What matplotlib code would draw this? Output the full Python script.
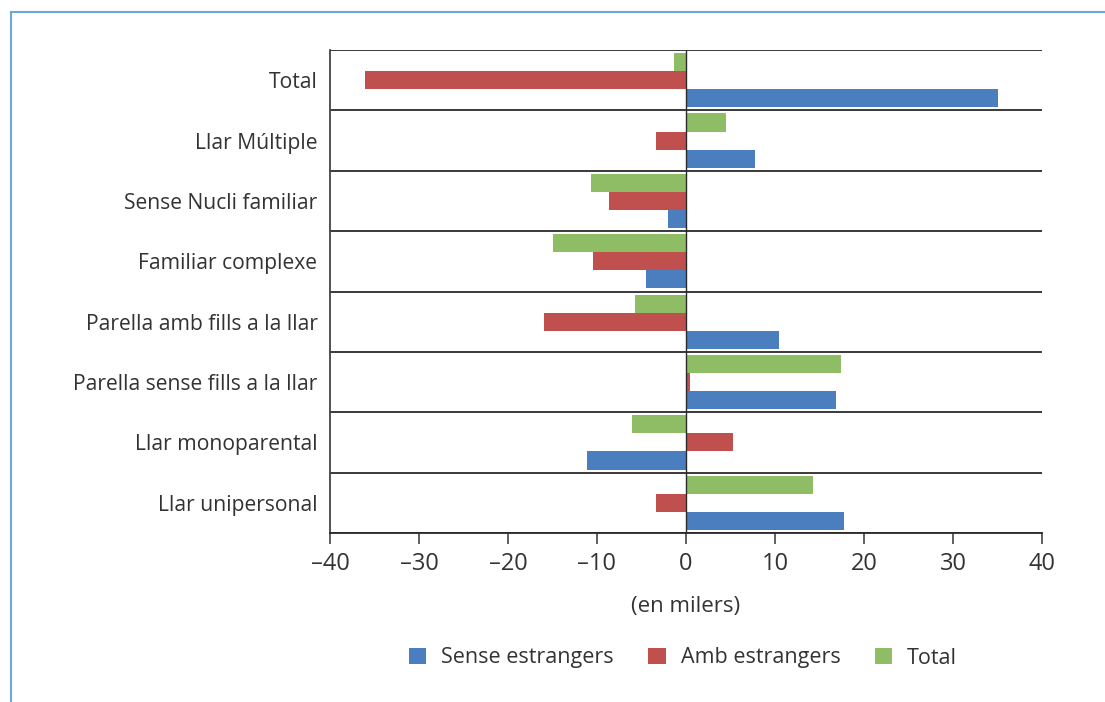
import numpy as np
import matplotlib.pyplot as plt
from matplotlib.lines import Line2D

plt.rcParams['font.family'] = ['Open Sans', 'DejaVu Sans']

# categories, top to bottom
categories = [
    "Total", "Llar Múltiple", "Sense Nucli familiar", "Familiar complexe",
    "Parella amb fills a la llar", "Parella sense fills a la llar",
    "Llar monoparental", "Llar unipersonal"
]

# values in thousands
sense_estrangers = [35.1, 7.7, -2.0, -4.5, 10.4, 16.9, -11.1, 17.8]
amb_estrangers = [-36.1, -3.4, -8.6, -10.4, -16.0, 0.5, 5.3, -3.4]
total = [-1.3, 4.5, -10.7, -14.9, -5.7, 17.4, -6.1, 14.3]

x_ticks = [-40, -30, -20, -10, 0, 10, 20, 30, 40]

c_blue = "#4a7ebf"
c_red = "#c0504d"
c_green = "#8fbd66"
txt = "#333333"

fig = plt.figure(figsize=(11.05, 7.02), dpi=100)
ax = fig.add_axes([330 / 1105, 1 - 533 / 702, 712 / 1105, 483 / 702])

y = np.arange(len(categories))
h = 0.3
ax.barh(y - h, total, height=h, color=c_green, label="Total", zorder=2)
ax.barh(y, amb_estrangers, height=h, color=c_red, label="Amb estrangers", zorder=2)
ax.barh(y + h, sense_estrangers, height=h, color=c_blue, label="Sense estrangers", zorder=2)

ax.set_xlim(-40, 40)
ax.set_ylim(len(categories) - 0.5, -0.5)

# separators between categories
for k in range(len(categories) + 1):
    ax.axhline(k - 0.5, color="#2a2a2a", lw=1.3, zorder=1)
ax.axvline(0, color="#2a2a2a", lw=1.0, zorder=3)

ax.set_yticks(y)
ax.set_yticklabels(categories, fontsize=15.2, color=txt)
ax.set_xticks(x_ticks)
ax.set_xticklabels([str(v).replace("-", "–") for v in x_ticks], fontsize=17, color=txt)
ax.tick_params(axis="y", length=0, pad=9)
ax.tick_params(axis="x", length=8, width=1.2, color="#444444", pad=6, direction="out")

for s in ["top", "right"]:
    ax.spines[s].set_visible(False)
ax.spines["left"].set_color("#444444")
ax.spines["left"].set_linewidth(1.3)
ax.spines["bottom"].set_color("#2a2a2a")
ax.spines["bottom"].set_linewidth(1.3)

ax.set_xlabel("(en milers)", fontsize=16, color=txt, labelpad=14)

handles, labels = ax.get_legend_handles_labels()
order = [2, 1, 0]
fig.legend([handles[i] for i in order], [labels[i] for i in order],
           loc="center", bbox_to_anchor=(683 / 1105, 1 - 658 / 702), ncol=3,
           frameon=False, fontsize=15.5, handlelength=0.8, handleheight=0.8,
           columnspacing=1.6, handletextpad=0.7, labelcolor=txt)

# outer frame (top and left only)
frame = "#6aaad6"
fig.add_artist(Line2D([11 / 1105, 1], [1 - 12 / 702, 1 - 12 / 702], color=frame, lw=1.5))
fig.add_artist(Line2D([11 / 1105, 11 / 1105], [0, 1 - 12 / 702], color=frame, lw=1.5))

fig.savefig("out.png", dpi=100)
